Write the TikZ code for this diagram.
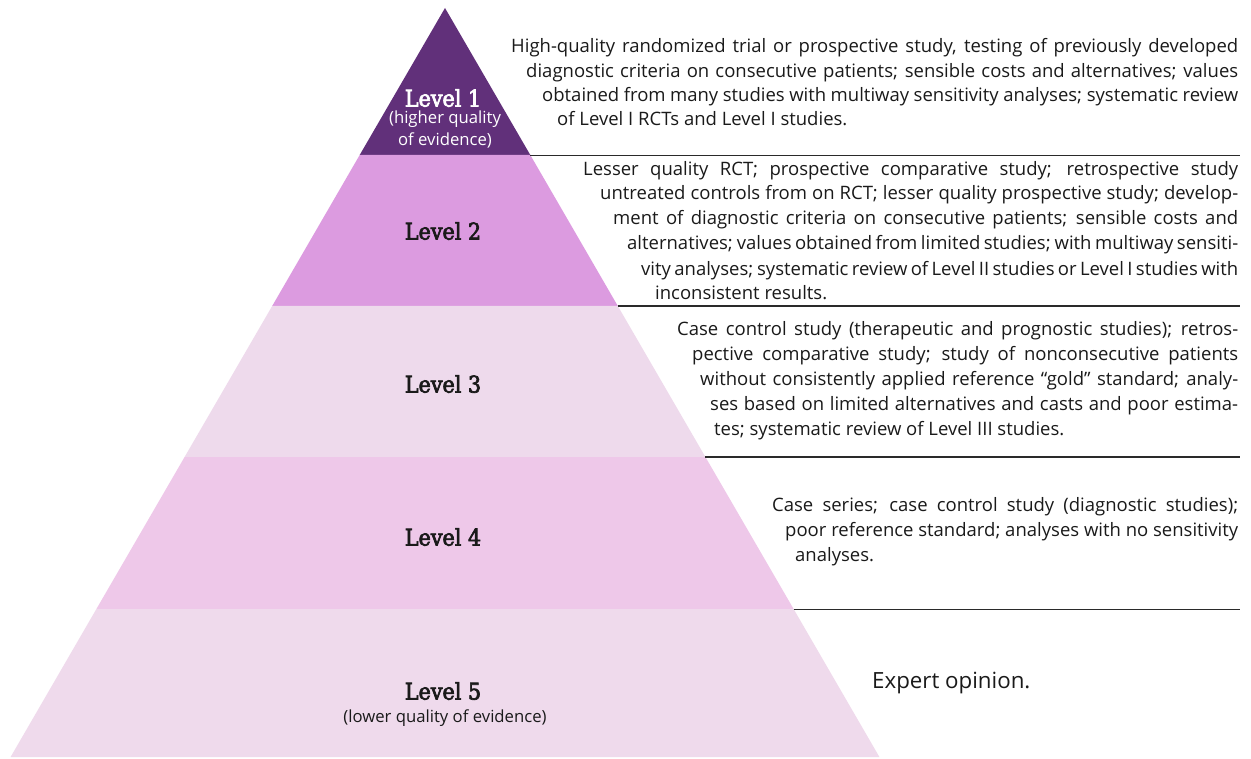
\documentclass[tikz,border=0pt]{standalone}
\usepackage{fontspec}
\setmainfont{Open Sans}
\newfontfamily\lvlfont[FakeBold=3]{DejaVu Serif Condensed}
\definecolor{lvA}{HTML}{61307A}
\definecolor{lvB}{HTML}{DC9BE0}
\definecolor{lvC}{HTML}{EEDAEC}
\definecolor{lvD}{HTML}{EEC8E9}
\definecolor{lvE}{HTML}{EFDAEC}
\definecolor{ink}{HTML}{1A1A1A}
\definecolor{rule}{HTML}{2A2A2A}
\newcommand{\jl}[4]{\node[txt, anchor=mid west] (#1) at (#2,#3) {\makebox[\dimexpr 1238pt-#2pt\relax][s]{#4}};}
\newcommand{\lastl}[4]{\node[txt, anchor=mid west] (#1) at (#2,#3) {#4};}
\begin{document}
\begin{tikzpicture}[x=1pt,y=-1pt,
  txt/.style={inner sep=0pt, font=\fontsize{18.5}{22}\selectfont, text=ink},
  lvl/.style={inner sep=0pt, font=\lvlfont\fontsize{23}{26}\selectfont, text=ink},
  sub/.style={inner sep=0pt, font=\fontsize{16.7}{20}\selectfont, text=ink},
  sepline/.style={draw=rule, line width=1.8pt}]
\useasboundingbox (0,0) rectangle (1251,759);
\fill[white] (0,0) rectangle (1251,759);
% pyramid corners
\coordinate (apex) at (445,8);
\coordinate (l1) at (359.7,155); \coordinate (r1) at (530.3,155);
\coordinate (l2) at (272.2,306); \coordinate (r2) at (617.8,306);
\coordinate (l3) at (184.6,457); \coordinate (r3) at (705.4,457);
\coordinate (l4) at (96.4,609);  \coordinate (r4) at (793.6,609);
\coordinate (l5) at (10.6,757);  \coordinate (r5) at (879.4,757);
\fill[lvA] (apex) -- (r1) -- (l1) -- cycle;
\fill[lvB] (l1) -- (r1) -- (r2) -- (l2) -- cycle;
\fill[lvC] (l2) -- (r2) -- (r3) -- (l3) -- cycle;
\fill[lvD] (l3) -- (r3) -- (r4) -- (l4) -- cycle;
\fill[lvE] (l4) -- (r4) -- (r5) -- (l5) -- cycle;
% separator rules
\coordinate (e1) at (1240,155.5);
\coordinate (e2) at (1240,306);
\coordinate (e3) at (1240,457);
\coordinate (e4) at (1240,609.5);
\draw[sepline] (r1 |- e1) -- (e1);
\draw[sepline] (r2) -- (e2);
\draw[sepline] (r3) -- (e3);
\draw[sepline] (r4 |- e4) -- (e4);
% level labels
\node[lvl, text=white] (L1) at (443,98) {Level 1};
\node[sub, text=white] (L1a) at (445,119) {(higher quality};
\node[sub, text=white] (L1b) at (445,140) {of evidence)};
\node[lvl] (L2) at (443,231) {Level 2};
\node[lvl] (L3) at (443,384) {Level 3};
\node[lvl] (L4) at (443,537) {Level 4};
\node[lvl] (L5) at (443,691) {Level 5};
\node[sub] (L5a) at (445,718) {(lower quality of evidence)};
% block 1
\jl{t1a}{511}{50}{High-quality randomized trial or prospective study, testing of previously developed}
\jl{t1b}{526}{75}{diagnostic criteria on consecutive patients; sensible costs and alternatives; values}
\jl{t1c}{542}{99}{obtained from many studies with multiway sensitivity analyses; systematic review}
\lastl{t1d}{557}{123}{of Level I RCTs and Level I studies.}
% block 2
\jl{t2a}{583}{173}{Lesser quality RCT; prospective comparative study; retrospective study}
\jl{t2b}{600}{197}{untreated controls from on RCT; lesser quality prospective study; develop-}
\jl{t2c}{613}{222}{ment of diagnostic criteria on consecutive patients; sensible costs and}
\jl{t2d}{627}{247}{alternatives; values obtained from limited studies; with multiway sensiti-}
\jl{t2e}{641}{273}{vity analyses; systematic review of Level II studies or Level I studies with}
\lastl{t2f}{655}{297}{inconsistent results.}
% block 3
\jl{t3a}{677}{333}{Case control study (therapeutic and prognostic studies); retros-}
\jl{t3b}{692}{358}{pective comparative study; study of nonconsecutive patients}
\jl{t3c}{700}{383}{without consistently applied reference “gold” standard; analy-}
\jl{t3d}{710}{408}{ses based on limited alternatives and casts and poor estima-}
\lastl{t3e}{714}{433}{tes; systematic review of Level III studies.}
% block 4
\jl{t4a}{772}{509}{Case series; case control study (diagnostic studies);}
\jl{t4b}{785}{534}{poor reference standard; analyses with no sensitivity}
\lastl{t4c}{795}{559}{analyses.}
% block 5
\node[txt, font=\fontsize{22.3}{26}\selectfont, anchor=mid west] (t5) at (872,686) {Expert opinion.};
\end{tikzpicture}
\end{document}
